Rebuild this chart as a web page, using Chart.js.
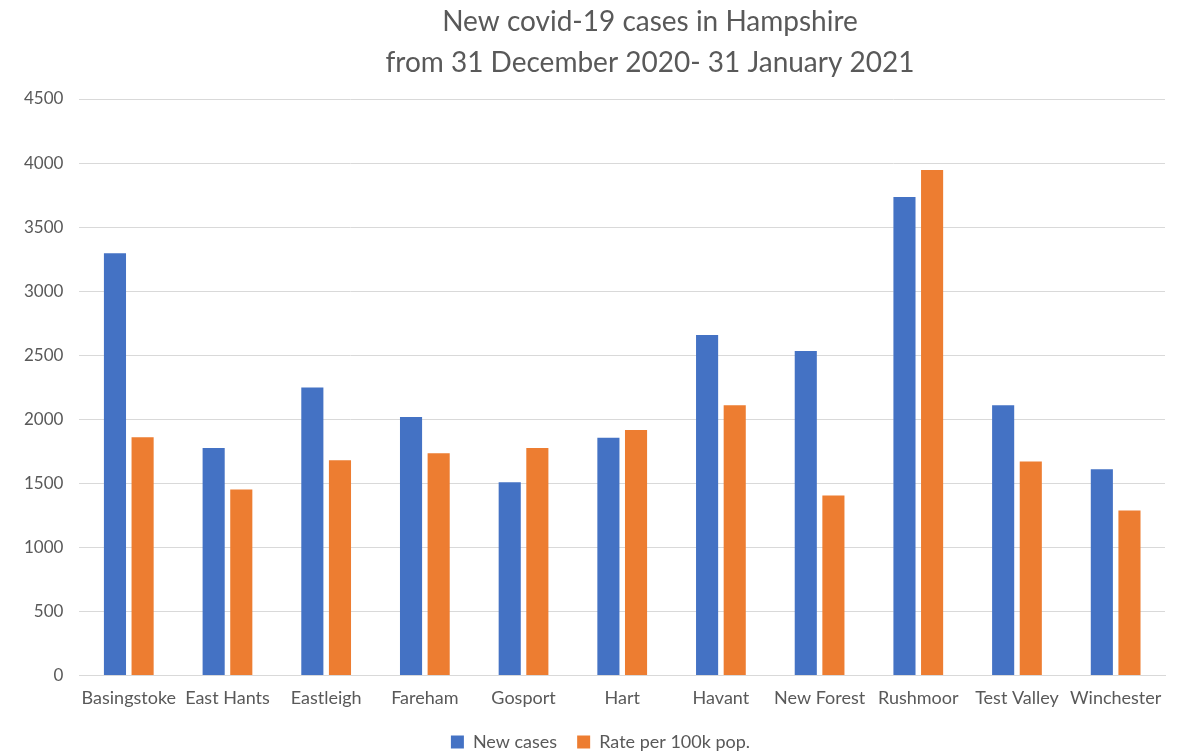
<!DOCTYPE html>
<html>
<head>
<meta charset="utf-8">
<script src="https://cdn.jsdelivr.net/npm/chart.js@4/dist/chart.umd.min.js"></script>
<style>
html,body{margin:0;padding:0;background:#fff;}
#wrap{width:1180px;height:754px;position:relative;}
</style>
</head>
<body>
<div id="wrap"><canvas id="c" width="1180" height="754"></canvas></div>
<script>
const categories = ["Basingstoke","East Hants","Eastleigh","Fareham","Gosport","Hart","Havant","New Forest","Rushmoor","Test Valley","Winchester"];
const newCases = [3295, 1775, 2247, 2017, 1507, 1855, 2658, 2533, 3734, 2109, 1609];
const ratePer100k = [1860, 1452, 1680, 1735, 1776, 1915, 2109, 1405, 3946, 1670, 1287];
const titleLines = ["New covid-19 cases in Hampshire", "from 31 December 2020- 31 January 2021"];
const seriesNames = ["New cases", "Rate per 100k pop."];

const FONT = "Lato, 'Open Sans', sans-serif";
const titlePlugin = {
  id: 'customTitle',
  afterLayout(chart) {
    if (chart.legend) { chart.legend.left += 14; chart.legend.right += 14; }
  },
  afterDraw(chart) {
    const ctx = chart.ctx;
    ctx.save();
    ctx.fillStyle = '#595959';
    ctx.font = '28px ' + FONT;
    ctx.textAlign = 'center';
    ctx.textBaseline = 'middle';
    const cx = 650;
    ctx.fillText(titleLines[0], cx, 22);
    ctx.fillText(titleLines[1], cx, 63);
    ctx.restore();
  }
};

new Chart(document.getElementById('c'), {
  type: 'bar',
  data: {
    labels: categories,
    datasets: [
      { label: seriesNames[0], data: newCases, backgroundColor: '#4472C4', categoryPercentage: 0.56, barPercentage: 0.8 },
      { label: seriesNames[1], data: ratePer100k, backgroundColor: '#ED7D31', categoryPercentage: 0.56, barPercentage: 0.8 }
    ]
  },
  options: {
    responsive: false,
    animation: false,
    layout: { padding: { top: 99, right: 15, left: 8, bottom: -7 } },
    plugins: {
      legend: {
        position: 'bottom',
        labels: { font: { family: FONT, size: 18 }, color: '#595959', boxWidth: 13, boxHeight: 13, padding: 20 }
      },
      tooltip: { enabled: false },
      title: { display: false }
    },
    scales: {
      x: {
        grid: { display: false },
        border: { color: '#d9d9d9', width: 1 },
        ticks: { font: { family: FONT, size: 18 }, color: '#595959', padding: 4, maxRotation: 0, autoSkip: false }
      },
      y: {
        min: 0, max: 4500,
        grid: { color: '#d9d9d9', lineWidth: 1, drawTicks: false },
        border: { display: false },
        ticks: { stepSize: 500, font: { family: FONT, size: 17 }, color: '#595959', padding: 16, callback: v => String(v) }
      }
    }
  },
  plugins: [titlePlugin]
});
</script>
</body>
</html>
